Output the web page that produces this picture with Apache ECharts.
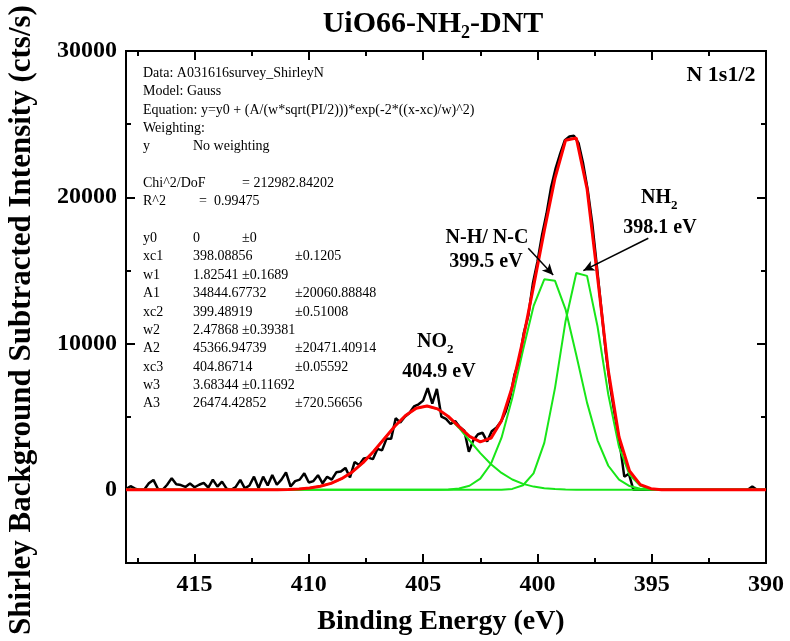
<!DOCTYPE html>
<html><head><meta charset="utf-8">
<script src="https://cdn.jsdelivr.net/npm/echarts@6/dist/echarts.min.js"></script>
<style>html,body{margin:0;padding:0;background:#fff}#c{width:790px;height:641px}</style>
</head><body><div id="c"></div>
<script>
// ---- measured spectrum (Shirley background subtracted) ----
const energy = [
418,417.8,417.6,417.4,417.2,417,416.8,416.6,416.4,416.2,
416,415.8,415.6,415.4,415.2,415,414.8,414.6,414.4,414.2,
414,413.8,413.6,413.4,413.2,413,412.8,412.6,412.4,412.2,
412,411.8,411.6,411.4,411.2,411,410.8,410.6,410.4,410.2,
410,409.8,409.6,409.4,409.2,409,408.8,408.6,408.4,408.2,
408,407.8,407.6,407.4,407.2,407,406.8,406.6,406.4,406.2,
406,405.8,405.6,405.4,405.2,405,404.8,404.6,404.4,404.2,
404,403.8,403.6,403.4,403.2,403,402.8,402.6,402.4,402.2,
402,401.8,401.6,401.4,401.2,401,400.8,400.6,400.4,400.2,
400,399.8,399.6,399.4,399.2,399,398.8,398.6,398.4,398.2,
398,397.8,397.6,397.4,397.2,397,396.8,396.6,396.4,396.2,
396,395.8,395.6,395.4,395.2,395,394.8,394.6,394.4,394.2,
394,393.8,393.6,393.4,393.2,393,392.8,392.6,392.4,392.2,
392,391.8,391.6,391.4,391.2,391,390.8,390.6,390.4,390.2,
390];
const counts = [
50,250,80,0,30,450,680,60,0,350,
800,380,330,200,430,180,350,480,150,700,
220,560,80,0,200,680,100,300,900,120,
900,300,1020,350,700,1200,230,600,700,1130,
500,600,1000,450,900,700,1200,1250,1500,850,
1900,1700,2150,2200,2100,2800,2700,3500,3500,4900,
4600,5000,5250,5700,5850,6100,6950,5900,6900,5000,
4850,4500,4700,4300,4050,2600,3400,3800,3900,3300,
4000,4250,4650,5300,6300,7900,8800,10700,11900,14100,
15600,17400,18900,20700,22000,23000,23900,24150,24200,23700,
22300,20500,18200,15300,12300,9300,6900,5000,3200,900,
1100,0,0,0,0,0,0,0,0,0,
0,0,0,0,0,0,0,0,0,0,
0,0,0,0,0,0,0,230,0,0,
0];

// ---- fitted curves (Gauss components and envelope) ----
const fitEnergy = [
418,417.43,416.97,416.5,416.03,415.57,415.1,414.63,414.17,413.7,
413.23,412.77,412.3,411.83,411.37,410.9,410.43,409.97,409.5,409.03,
408.57,408.1,407.63,407.17,406.7,406.23,405.77,405.3,404.83,404.37,
403.9,403.43,402.97,402.5,402.03,401.57,401.1,400.63,400.17,399.7,
399.23,398.77,398.3,397.83,397.37,396.9,396.43,395.97,395.5,395.03,
394.57,394.1,393.63,393.17,392.7,392.23,391.77,391.3,390.83,390.37,
390];
const fitPeak1 = [
0,0,0,0,0,0,0,0,0,0,
0,0,0,0,0,0,0,0,0,0,
0,0,0,0,0,0,0,0,0,0,
0,0,0,0,1,11,66,316,1132,3208,
6973,11530,14829,14630,11167,6519,2920,1029,273,55,
9,1,0,0,0,0,0,0,0,0,
0];
const fitPeak2 = [
0,0,0,0,0,0,0,0,0,0,
0,0,0,0,0,0,0,0,0,0,
0,0,0,0,0,0,0,0,1,6,
26,93,283,764,1785,3566,6275,9560,12558,14393,
14288,12342,9218,5962,3385,1647,694,259,82,23,
6,1,0,0,0,0,0,0,0,0,
0];
const fitPeak3 = [
0,0,0,0,0,0,0,0,0,0,
0,1,2,5,11,27,60,123,242,446,
760,1228,1861,2624,3495,4361,5085,5578,5734,5530,
4996,4230,3374,2511,1751,1155,708,407,222,112,
53,24,10,4,1,0,0,0,0,0,
0,0,0,0,0,0,0,0,0,0,
0];
const fitEnvelope = [
0,0,0,0,0,0,0,0,0,0,
0,1,2,5,11,27,60,123,242,446,
760,1228,1861,2624,3495,4361,5085,5578,5735,5536,
5022,4323,3657,3275,3537,4732,7049,10283,13912,17713,
21314,23896,24057,20596,14553,8166,3614,1288,355,78,
15,2,0,0,0,0,0,0,0,0,
0];

// ---- axes ----
const xMajorTicks = [415,410,405,400,395,390];
const xMinorTicks = [417.5,412.5,407.5,402.5,397.5,392.5];
const yMajorTicks = [0,10000,20000,30000];
const yMinorTicks = [5000,15000,25000];

// ---- fit report text ----
const headerLines = ['Data: A031616survey_ShirleyN','Model: Gauss',
  'Equation: y=y0 + (A/(w*sqrt(PI/2)))*exp(-2*((x-xc)/w)^2)','Weighting:'];
const paramNames  = ['y0','xc1','w1','A1','xc2','w2','A2','xc3','w3','A3'];
const paramValues = ['0','398.08856','1.82541','34844.67732','399.48919','2.47868','45366.94739','404.86714','3.68344','26474.42852'];
const paramErrors = ['±0','±0.1205','±0.1689','±20060.88848','±0.51008','±0.39381','±20471.40914','±0.05592','±0.11692','±720.56656'];

// ---- annotation arrows [from, to] in data coordinates ----
const arrows = [
  [[400.40,16517],[399.31,14693]],
  [[395.15,17201],[397.99,14987]]
];

const FONT = "'Liberation Serif','Times New Roman',serif";
const chart = echarts.init(document.getElementById('c'), null, {renderer:'canvas'});

const g = [];
function T(x,y,text,size,bold,align,extra){
  const o = {type:'text', x:x, y:y, silent:true, z:50,
    style:{text:text, font:(bold?'bold ':'')+size+'px '+FONT, fill:'#000',
      align:align||'left', verticalAlign:'middle'}};
  if(extra) Object.assign(o, extra);
  g.push(o);
}
// fit report
const x0 = 143, cVal = 193, lh = 18.35, yTop = 73.3;
headerLines.forEach((s,i)=>T(x0, yTop+i*lh, s, 14, false));
T(x0, yTop+4*lh, 'y', 14, false); T(cVal, yTop+4*lh, 'No weighting', 14, false);
T(x0, yTop+6*lh, 'Chi^2/DoF', 14, false); T(242, yTop+6*lh, '= 212982.84202', 14, false);
T(x0, yTop+7*lh, 'R^2', 14, false); T(199, yTop+7*lh, '=  0.99475', 14, false);
paramNames.forEach((n,i)=>{
  const yy = yTop+(9+i)*lh;
  T(x0, yy, n, 14, false);
  T(cVal, yy, paramValues[i], 14, false);
  const ex = (n==='y0' || n[0]==='w') ? 242 : 295;
  T(ex, yy, paramErrors[i], 14, false);
});
// titles
T(461, 24, 'UiO66-NH', 30, true, 'right');
T(461, 33, '2', 18, true, 'left');
T(470, 24, '-DNT', 30, true, 'left');
T(441, 622, 'Binding Energy (eV)', 28, true, 'center');
T(22, 320, 'Shirley Background Subtracted Intensity (cts/s)', 31, true, 'center', {rotation: Math.PI/2});
// annotations
T(721, 75, 'N 1s1/2', 22, true, 'center');
T(447, 342, 'NO', 20, true, 'right'); T(447, 350, '2', 13, true, 'left');
T(439, 372, '404.9 eV', 20, true, 'center');
T(487, 238, 'N-H/ N-C', 20, true, 'center');
T(486, 262, '399.5 eV', 20, true, 'center');
T(671, 198, 'NH', 20, true, 'right'); T(671, 206, '2', 13, true, 'left');
T(660, 228, '398.1 eV', 20, true, 'center');

const axisLine = {show:true, onZero:false, lineStyle:{color:'#000', width:2}};
const lbl = {color:'#000', fontFamily:FONT, fontWeight:'bold', fontSize:24, formatter:(v)=>String(v)};
function xAx(pos, vals, len, showLabel){
  return {type:'value', position:pos, min:390, max:418, inverse:true, gridIndex:0,
    axisLine:axisLine, splitLine:{show:false},
    axisTick:{show:true, inside:true, length:len, customValues:vals, lineStyle:{color:'#000', width:2}},
    axisLabel: showLabel ? Object.assign({show:true, margin:10, customValues:vals}, lbl) : {show:false}};
}
function yAx(pos, vals, len, showLabel){
  return {type:'value', position:pos, min:-5000, max:30000, gridIndex:0,
    axisLine:axisLine, splitLine:{show:false},
    axisTick:{show:true, inside:true, length:len, customValues:vals, lineStyle:{color:'#000', width:2}},
    axisLabel: showLabel ? Object.assign({show:true, margin:9, customValues:vals}, lbl) : {show:false}};
}

const pairs = (xs, ys) => xs.map((x,i)=>[x, ys[i]]);
const lineS = (name, data, color, width, z) => ({
  name:name, type:'line', data:data, xAxisIndex:0, yAxisIndex:0, showSymbol:false, symbol:'none',
  lineStyle:{color:color, width:width}, z:z, clip:true, silent:true, emphasis:{disabled:true}
});

const GREEN = '#18e618';
const blackS = lineS('data', pairs(energy, counts), '#000', 2.5, 2);
blackS.markLine = {silent:true, symbol:['none','arrow'], symbolSize:[8,11], animation:false,
  lineStyle:{color:'#000', width:1.5, type:'solid'}, label:{show:false},
  data: arrows.map(a=>[{coord:a[0]},{coord:a[1]}])};

chart.setOption({
  animation:false,
  backgroundColor:'#fff',
  grid:{left:126, right:24, top:51, bottom:78, containLabel:false},
  xAxis:[xAx('bottom', xMajorTicks, 9, true), xAx('bottom', xMinorTicks, 5, false),
         xAx('top', xMajorTicks, 9, false), xAx('top', xMinorTicks, 5, false)],
  yAxis:[yAx('left', yMajorTicks, 9, true), yAx('left', yMinorTicks, 5, false),
         yAx('right', yMajorTicks, 9, false), yAx('right', yMinorTicks, 5, false)],
  series:[
    blackS,
    lineS('peak1', pairs(fitEnergy, fitPeak1), GREEN, 2, 3),
    lineS('peak2', pairs(fitEnergy, fitPeak2), GREEN, 2, 3),
    lineS('peak3', pairs(fitEnergy, fitPeak3), GREEN, 2, 3),
    lineS('fit', pairs(fitEnergy, fitEnvelope), '#ff0000', 3, 4)
  ],
  graphic: g
});
</script></body></html>
